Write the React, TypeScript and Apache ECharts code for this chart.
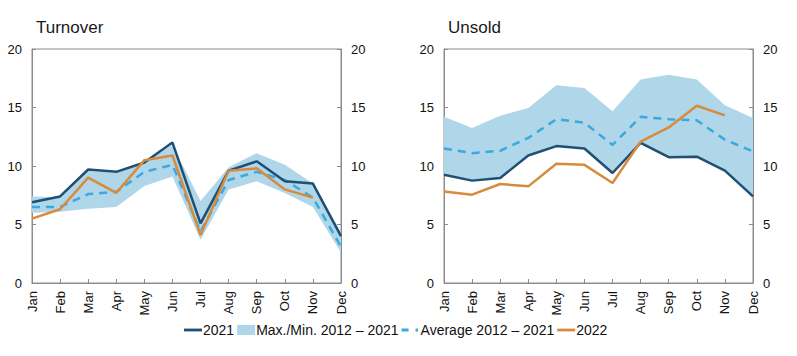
import React, { useEffect, useRef } from "react";
import * as echarts from "echarts";

const months = ["Jan", "Feb", "Mar", "Apr", "May", "Jun", "Jul", "Aug", "Sep", "Oct", "Nov", "Dec"];
const yTicks = [0, 5, 10, 15, 20];

// Turnover
const turnover2021 = [6.9, 7.4, 9.7, 9.5, 10.3, 12.0, 5.1, 9.6, 10.4, 8.7, 8.5, 4.0];
const turnoverAvg = [6.5, 6.5, 7.6, 7.8, 9.5, 10.1, 4.4, 8.8, 9.5, 8.8, 7.3, 3.1];
const turnoverMin = [6.0, 6.1, 6.35, 6.5, 8.3, 9.1, 3.7, 8.0, 8.7, 7.7, 6.5, 2.6];
const turnoverMax = [7.4, 7.3, 9.6, 9.4, 10.3, 11.8, 7.0, 9.9, 11.1, 10.1, 8.5, 4.3];
const turnover2022 = [5.5, 6.3, 9.0, 7.7, 10.5, 10.9, 4.1, 9.6, 9.8, 8.0, 7.3];

// Unsold
const unsold2021 = [9.25, 8.75, 8.97, 10.9, 11.7, 11.5, 9.4, 11.97, 10.75, 10.8, 9.6, 7.4];
const unsoldAvg = [11.5, 11.1, 11.3, 12.4, 14.0, 13.7, 11.8, 14.2, 14.0, 13.9, 12.25, 11.25];
const unsoldMin = [9.2, 8.7, 8.9, 10.85, 11.65, 11.45, 9.35, 11.9, 10.7, 10.75, 9.55, 7.35];
const unsoldMax = [14.2, 13.25, 14.3, 14.95, 16.9, 16.67, 14.67, 17.4, 17.8, 17.4, 15.2, 14.1];
const unsold2022 = [7.83, 7.55, 8.46, 8.26, 10.2, 10.1, 8.55, 12.08, 13.3, 15.15, 14.33];

const DARK = "#1f4f73";
const BAND = "#b0d6ea";
const AVG = "#3ba9dd";
const ORANGE = "#d88b3b";
const AXIS = "#8c8c8c";
const FONT = "Liberation Sans";

const BAND_NAME = "Max./Min. 2012 \u2013 2021";
const AVG_NAME = "Average 2012 \u2013 2021";

const LINE_ICON = "path://M0,0 M18,10 M0,3.6 H18 V6.4 H0 Z";
const DASH_ICON = "path://M0,0 M18,10 M0,3.6 H7 V6.4 H0 Z M14,3.6 H16.5 V6.4 H14 Z";
const RECT_ICON = "path://M0,0 H18 V10 H0 Z";

export default function App() {
  const ref = useRef<HTMLDivElement>(null);
  useEffect(() => {
    if (!ref.current) return;
    const chart = echarts.init(ref.current, null, { renderer: "svg" });
    const grids = [
      { left: 32, top: 49, width: 309, height: 234 },
      { left: 444, top: 49, width: 309, height: 234 },
    ];
    const xAxes = grids.map((_, i) => ({
      type: "category",
      gridIndex: i,
      data: months,
      boundaryGap: false,
      axisLine: { lineStyle: { color: AXIS, width: 1 } },
      axisTick: { inside: true, length: 4, lineStyle: { color: AXIS } },
      axisLabel: { rotate: 90, fontSize: 13, color: "#111", fontFamily: FONT, margin: 8, interval: 0 },
      splitLine: { show: false },
    }));
    const yAxes: any[] = [];
    grids.forEach((_, i) => {
      ["left", "right"].forEach((pos) => {
        yAxes.push({
          type: "value",
          gridIndex: i,
          position: pos,
          min: yTicks[0],
          max: yTicks[yTicks.length - 1],
          interval: 5,
          axisLine: { show: true, lineStyle: { color: AXIS, width: 1 } },
          axisTick: { show: true, inside: true, length: 4, lineStyle: { color: AXIS } },
          axisLabel: { fontSize: 13, color: "#111", fontFamily: FONT, margin: 10 },
          splitLine: { show: false },
        });
      });
    });
    const panels = [
      { d21: turnover2021, avg: turnoverAvg, min: turnoverMin, max: turnoverMax, d22: turnover2022 },
      { d21: unsold2021, avg: unsoldAvg, min: unsoldMin, max: unsoldMax, d22: unsold2022 },
    ];
    const series: any[] = [];
    panels.forEach((p, i) => {
      const common = { xAxisIndex: i, yAxisIndex: i * 2, symbol: "none", showSymbol: false, silent: true };
      series.push({
        ...common,
        type: "line",
        name: "base" + i,
        stack: "band" + i,
        data: p.min,
        lineStyle: { opacity: 0 },
      });
      series.push({
        ...common,
        type: "line",
        name: BAND_NAME,
        stack: "band" + i,
        data: p.max.map((v, k) => +(v - p.min[k]).toFixed(3)),
        lineStyle: { opacity: 0, width: 0 },
        itemStyle: { color: BAND },
        areaStyle: { color: BAND, opacity: 1 },
      });
      series.push({
        ...common,
        type: "line",
        name: AVG_NAME,
        data: p.avg,
        itemStyle: { color: AVG },
        lineStyle: { color: AVG, width: 2.5, type: [8, 6] },
      });
      series.push({
        ...common,
        type: "line",
        name: "2021",
        data: p.d21,
        itemStyle: { color: DARK },
        lineStyle: { color: DARK, width: 2.5 },
      });
      series.push({
        ...common,
        type: "line",
        name: "2022",
        data: p.d22,
        itemStyle: { color: ORANGE },
        lineStyle: { color: ORANGE, width: 2.5 },
      });
    });
    chart.setOption({
      animation: false,
      backgroundColor: "#fff",
      title: [
        { text: "Turnover", left: 31, top: 14, textStyle: { fontSize: 17, fontWeight: "normal", color: "#1a1a1a", fontFamily: FONT } },
        { text: "Unsold", left: 443, top: 14, textStyle: { fontSize: 17, fontWeight: "normal", color: "#1a1a1a", fontFamily: FONT } },
      ],
      grid: grids.map((g) => ({ ...g, show: true, borderColor: AXIS, borderWidth: 1, backgroundColor: "transparent" })),
      xAxis: xAxes,
      yAxis: yAxes,
      legend: {
        data: [
          { name: "2021", icon: LINE_ICON, itemStyle: { color: DARK } },
          { name: BAND_NAME, icon: RECT_ICON, itemStyle: { color: BAND } },
          { name: AVG_NAME, icon: DASH_ICON, itemStyle: { color: AVG } },
          { name: "2022", icon: LINE_ICON, itemStyle: { color: ORANGE } },
        ],
        left: 179,
        top: 318,
        itemGap: 3,
        itemWidth: 18,
        itemHeight: 10,
        textStyle: { fontSize: 14, color: "#111", fontFamily: FONT, padding: [0, 0, 0, -4] },
        selectedMode: false,
      },
      series,
    });
    return () => chart.dispose();
  }, []);
  return <div ref={ref} style={{ position: "fixed", left: 0, top: 0, width: 797, height: 356 }} />;
}
